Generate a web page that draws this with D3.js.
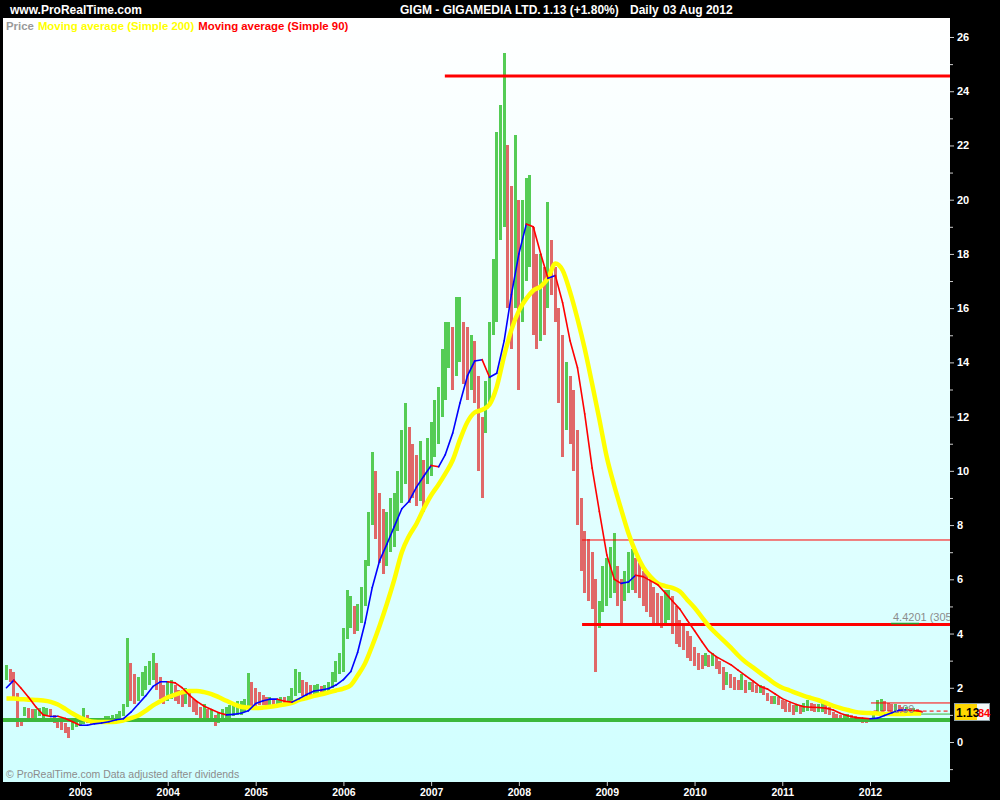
<!DOCTYPE html>
<html><head><meta charset="utf-8">
<script src="https://cdn.jsdelivr.net/npm/d3@7"></script>
<style>html,body{margin:0;padding:0;background:#000;}svg{display:block;}</style>
</head><body><svg id="c" width="1000" height="800"></svg>
<script>
// ---------- DATA ----------
const firstMonth = "2002-03-01";           // half-monthly bars start here, monthly MA points too
// half-monthly price ranges (low / high)
const barLow = [
  // 2002 (Mar-Dec)
  2.3,2.2,1.6,0.55,0.6,0.95,0.9,0.85,0.85,0.95,0.9,1.0,0.95,0.7,0.5,0.45,0.35,0.15,0.45,0.55,
  // 2003
  0.6,0.65,0.7,0.65,0.65,0.7,0.7,0.7,0.75,0.75,0.8,0.85,0.95,1.3,1.5,1.4,1.5,1.7,1.9,2.1,2.3,1.9,1.6,1.4,
  // 2004
  1.5,1.6,1.5,1.4,1.3,1.4,1.3,1.1,1.0,0.9,0.9,0.8,0.8,0.6,0.7,0.8,0.85,0.9,0.95,1.0,1.0,1.1,1.3,1.3,
  // 2005
  1.3,1.35,1.35,1.3,1.35,1.35,1.35,1.4,1.35,1.35,1.45,1.7,1.8,1.7,1.7,1.75,1.75,1.8,1.75,1.8,1.8,2.0,2.2,2.5,
  // 2006
  2.6,3.8,4.2,4.0,4.1,4.4,5.0,6.5,8.0,7.5,6.6,6.2,6.5,7.0,7.2,7.8,8.8,9.5,8.8,9.0,8.7,8.9,8.5,9.5,
  // 2007
  9.8,10.5,11.0,12.0,12.6,13.8,13.0,13.5,14.0,13.2,12.6,13.0,12.5,10.0,9.0,11.4,12.5,15.0,15.5,18.5,19.0,16.0,14.5,16.0,
  // 2008
  13.0,15.5,17.0,17.5,15.0,14.5,14.8,15.0,16.0,16.5,15.5,12.5,10.5,11.5,11.0,10.0,8.0,6.3,5.5,5.2,4.9,2.6,4.2,4.8,
  // 2009
  5.0,5.3,5.5,5.0,4.3,5.2,5.5,5.6,5.5,5.3,5.0,4.8,4.6,4.4,4.3,4.2,4.4,4.5,4.0,3.6,3.5,3.4,3.1,3.0,
  // 2010
  2.8,2.65,2.7,2.8,2.75,2.8,2.7,2.5,1.9,2.1,2.0,1.9,1.9,1.9,1.8,1.9,1.85,1.8,1.8,1.75,1.5,1.4,1.4,1.35,
  // 2011
  1.2,1.1,1.1,1.0,1.1,1.05,1.1,1.15,1.15,1.1,1.1,1.1,1.05,1.0,0.85,0.8,0.8,0.85,0.85,0.8,0.75,0.75,0.7,0.7,
  // 2012 (Jan-Aug 3)
  0.72,0.85,1.05,1.15,1.15,1.15,1.1,1.15,1.05,1.05,1.05,1.05,1.05,1.05,1.08
];
const barHigh = [
  2.85,2.7,2.6,1.8,0.8,1.3,1.25,1.2,1.2,1.25,1.3,1.25,1.2,1.0,0.8,0.75,0.7,0.55,0.75,0.9,
  0.95,1.25,1.0,0.9,0.85,0.9,0.9,0.95,0.95,1.0,1.05,1.15,1.4,3.85,2.9,2.5,2.4,2.6,2.8,3.0,3.3,2.9,2.4,2.1,
  2.2,2.3,2.1,1.9,1.9,2.0,1.8,1.6,1.5,1.3,1.4,1.2,1.2,1.0,1.1,1.2,1.3,1.35,1.4,1.5,1.5,1.6,2.55,2.2,
  2.0,1.85,1.75,1.65,1.65,1.6,1.6,1.65,1.65,1.7,2.0,2.7,2.6,2.3,2.2,2.1,2.1,2.15,2.05,2.1,2.2,2.6,3.0,3.3,
  4.2,5.6,5.4,5.0,5.1,5.7,6.7,8.5,10.7,10.0,9.2,8.6,8.5,9.0,9.2,10.0,11.5,12.5,11.6,11.0,10.6,11.1,10.4,11.2,
  11.8,12.6,13.1,14.5,15.5,15.5,15.3,16.4,16.4,15.5,15.3,15.0,14.8,13.5,12.0,13.3,15.5,17.8,22.5,23.5,25.4,22.0,20.5,22.4,
  20.0,20.0,20.8,20.9,19.0,18.0,18.0,17.5,19.9,18.5,17.5,16.0,15.0,14.0,13.5,13.0,11.5,9.0,7.8,7.5,7.0,6.0,5.2,6.5,
  6.8,7.2,7.7,6.5,6.0,6.3,7.0,7.1,6.8,6.6,6.3,6.2,6.0,5.7,5.5,5.4,5.6,5.6,5.4,5.0,4.5,4.3,4.1,3.9,
  3.5,3.3,3.2,3.3,3.2,3.3,3.15,3.0,2.75,2.6,2.5,2.4,2.3,2.5,2.3,2.2,2.2,2.1,2.1,2.05,1.8,1.7,1.7,1.65,
  1.55,1.5,1.45,1.35,1.4,1.35,1.45,1.55,1.45,1.4,1.4,1.45,1.4,1.3,1.1,1.05,1.0,1.05,1.05,1.0,0.95,0.9,0.9,0.85,
  0.9,1.05,1.55,1.6,1.5,1.45,1.4,1.4,1.35,1.3,1.3,1.25,1.25,1.2,1.16
];
// monthly moving-average values (from Mar 2002)
const ma90 = [
  2.0,2.28,1.98,1.65,1.3,1.0,0.94,0.95,0.87,0.75,
  0.62,0.62,0.67,0.7,0.75,0.82,0.86,1.1,1.4,1.7,2.05,2.22,
  2.22,2.18,2.0,1.72,1.5,1.32,1.2,1.08,1.0,1.02,1.06,1.15,
  1.42,1.52,1.58,1.58,1.5,1.47,1.6,1.75,1.88,1.92,1.97,2.1,
  2.3,2.6,3.3,4.4,5.7,6.7,7.3,7.95,8.6,8.88,9.4,9.8,
  10.2,10.15,10.6,11.4,12.5,13.5,14.05,14.1,13.45,13.6,14.8,16.5,
  18.0,19.1,19.0,18.0,17.1,17.2,16.2,14.8,13.8,12.1,10.1,8.5,
  6.9,6.0,5.85,5.9,6.15,6.1,5.95,5.8,5.5,5.2,4.9,4.5,
  4.1,3.7,3.35,3.15,3.0,2.85,2.65,2.45,2.25,2.05,1.95,1.78,
  1.6,1.48,1.38,1.3,1.28,1.27,1.25,1.18,1.05,0.97,0.9,0.88,
  0.86,0.88,0.98,1.08,1.17,1.19,1.16,1.13
];
const ma200 = [
  1.6,1.6,1.58,1.56,1.55,1.53,1.48,1.38,1.22,1.05,
  0.9,0.8,0.75,0.74,0.74,0.75,0.8,0.88,0.98,1.15,1.35,1.5,
  1.65,1.75,1.83,1.88,1.88,1.84,1.77,1.65,1.52,1.4,1.3,1.27,
  1.25,1.27,1.3,1.34,1.38,1.44,1.55,1.62,1.7,1.76,1.83,1.9,
  1.97,2.1,2.45,2.9,3.55,4.3,5.1,6.0,7.0,7.6,8.05,8.6,
  9.1,9.5,9.9,10.4,11.15,11.8,12.15,12.25,12.45,13.1,14.25,15.2,
  15.9,16.35,16.65,16.8,17.1,17.65,17.4,16.6,15.6,14.5,13.2,11.9,
  10.5,9.45,8.6,7.7,7.0,6.45,6.1,5.85,5.75,5.68,5.55,5.25,
  4.95,4.6,4.28,4.0,3.75,3.48,3.2,2.95,2.75,2.55,2.35,2.15,
  2.0,1.9,1.8,1.7,1.62,1.54,1.44,1.33,1.25,1.18,1.11,1.08,
  1.07,1.05,1.03,1.03,1.03,1.04,1.05,1.05
];
const yTickValues = [0,2,4,6,8,10,12,14,16,18,20,22,24,26];
const yMinorValues = [-1,1,3,5,7,9,11,13,15,17,19,21,23,25];
const yearLabels = ["2003","2004","2005","2006","2007","2008","2009","2010","2011","2012"];
// horizontal drawn levels: value and start date
const levelValues = [24.56, 7.45, 4.33, 0.81, 1.44, 1.14, 1.03];
const levelStarts = ["2007-02-27","2008-09-20","2008-09-20","2002-01-01","2012-01-05","2012-01-16","2012-05-18"];
const headerLeft = "www.ProRealTime.com";
const headerParts = ["GIGM - GIGAMEDIA LTD.", "1.13 (+1.80%)", "Daily", "03 Aug 2012"];
const legendItems = ["Price", "Moving average (Simple 200)", "Moving average (Simple 90)"];
const lastPrice = "1.13";
const otherPrice = "84";

// ---------- DRAW ----------
const W = 1000, H = 800;
const plot = {l:3, t:18, r:950, b:782};
const svg = d3.select("#c");
const parse = d3.timeParse("%Y-%m-%d");
const t0 = parse(firstMonth);

const x = d3.scaleTime().domain([new Date(2003,0,1), new Date(2012,0,1)]).range([80, 870]);
const y = d3.scaleLinear().domain([0, 26]).range([742, 37]);

const defs = svg.append("defs");
const grad = defs.append("linearGradient").attr("id","bg").attr("x1",0).attr("y1",0).attr("x2",0).attr("y2",1);
grad.append("stop").attr("offset","0%").attr("stop-color","#ffffff");
grad.append("stop").attr("offset","100%").attr("stop-color","#d0ffff");
defs.append("clipPath").attr("id","clip").append("rect")
  .attr("x",plot.l).attr("y",plot.t).attr("width",plot.r-plot.l).attr("height",plot.b-plot.t);

svg.append("rect").attr("width",W).attr("height",H).attr("fill","#000");
svg.append("rect").attr("x",plot.l).attr("y",plot.t).attr("width",plot.r-plot.l).attr("height",plot.b-plot.t).attr("fill","url(#bg)");

const font = "'Liberation Sans', Arial, sans-serif";

// header
svg.append("text").attr("x",10).attr("y",14).attr("fill","#fff").attr("font-family",font)
  .attr("font-weight","bold").attr("font-size",12).text(headerLeft);
const hx = [400, 543, 630, 663];
headerParts.forEach((s,i)=>{
  svg.append("text").attr("x",hx[i]).attr("y",14).attr("fill","#fff").attr("font-family",font)
    .attr("font-weight","bold").attr("font-size",12).text(s);
});

const g = svg.append("g").attr("clip-path","url(#clip)");

// bars
const bars = barLow.map((lo,i)=>{
  const d = d3.timeDay.offset(d3.timeMonth.offset(t0, Math.floor(i/2)), (i%2)?15:0);
  return {date:d, lo, hi:barHigh[i]};
});
bars.forEach((b,i)=>{
  const mid = (b.lo+b.hi)/2;
  const prev = i>0 ? (bars[i-1].lo+bars[i-1].hi)/2 : mid;
  b.up = mid >= prev;
});
g.append("g").attr("shape-rendering","crispEdges").selectAll("rect").data(bars).join("rect")
  .attr("x",d=>x(d.date)-1.5).attr("width",3)
  .attr("y",d=>y(d.hi)).attr("height",d=>Math.max(1,y(d.lo)-y(d.hi)))
  .attr("fill",d=>d.up?"#55cc55":"#e06868");

// levels
const levelStyle = [
  {w:3, c:"#ff0000", dash:null},
  {w:1, c:"#ff0000", dash:null},
  {w:3, c:"#ff0000", dash:null},
  {w:4, c:"#3cb83c", dash:null},
  {w:1, c:"#ff0000", dash:null},
  {w:1, c:"#ff0000", dash:"4,3"},
  {w:1, c:"#3cb83c", dash:null}
];
levelValues.forEach((v,i)=>{
  const xs = Math.max(plot.l, x(parse(levelStarts[i])));
  const ln = g.append("line").attr("x1",xs).attr("x2",plot.r).attr("y1",y(v)).attr("y2",y(v))
    .attr("stroke",levelStyle[i].c).attr("stroke-width",levelStyle[i].w);
  if(levelStyle[i].dash) ln.attr("stroke-dasharray",levelStyle[i].dash);
});

// MA 200 (yellow)
const maDates = ma200.map((_,i)=>d3.timeMonth.offset(t0,i));
const line = d3.line().x((d,i)=>x(maDates[i])).y(d=>y(d)).curve(d3.curveMonotoneX);
g.append("path").attr("d",line(ma200)).attr("fill","none").attr("stroke","#ffff00").attr("stroke-width",4.5)
  .attr("stroke-linejoin","round");

// MA 90: blue while rising, red while falling
const segs = [];
for(let i=0;i<ma90.length-1;i++){
  segs.push({a:i, b:i+1, up: ma90[i+1] >= ma90[i]});
}
g.append("g").selectAll("line").data(segs).join("line")
  .attr("x1",d=>x(maDates[d.a])).attr("y1",d=>y(ma90[d.a]))
  .attr("x2",d=>x(maDates[d.b])).attr("y2",d=>y(ma90[d.b]))
  .attr("stroke",d=>d.up?"#0000ff":"#ff0000").attr("stroke-width",1.6).attr("stroke-linecap","round");

// level annotations
g.append("text").attr("x",893).attr("y",621).attr("fill","#8c8c8c").attr("font-family",font)
  .attr("font-size",11).text("4.4201 (305 j)");
g.append("line").attr("x1",891).attr("x2",919).attr("y1",623.5).attr("y2",623.5).attr("stroke","#2a9a2a").attr("stroke-width",1.5);
g.append("text").attr("x",893).attr("y",713).attr("fill","#8c8c8c").attr("font-family",font)
  .attr("font-size",11).text("1.09");

// legend
let lx = 6;
const legendColors = ["#999999","#ffff00","#ff0000"];
legendItems.forEach((s,i)=>{
  const t = svg.append("text").attr("x",lx).attr("y",30).attr("fill",legendColors[i]).attr("font-family",font)
    .attr("font-weight","bold").attr("font-size",11.4).text(s);
  lx += t.node().getComputedTextLength() + 4;
});

// copyright
svg.append("text").attr("x",6).attr("y",778).attr("fill","#8c8c8c").attr("font-family",font)
  .attr("font-size",10.5).text("\u00A9 ProRealTime.com  Data adjusted after dividends");

// y axis
const ya = svg.append("g").attr("transform",`translate(${plot.r},0)`)
  .call(d3.axisRight(y).tickValues(yTickValues).tickSize(4).tickPadding(3).tickFormat(d3.format("d")));
ya.select(".domain").remove();
ya.selectAll("line").attr("stroke","#cccccc");
ya.selectAll("text").attr("fill","#fff").attr("font-family",font).attr("font-weight","bold").attr("font-size",11);
const ym = svg.append("g").attr("transform",`translate(${plot.r},0)`)
  .call(d3.axisRight(y).tickValues(yMinorValues).tickSize(3).tickFormat(""));
ym.select(".domain").remove();
ym.selectAll("line").attr("stroke","#cccccc");

// x axis
const xa = svg.append("g").attr("transform",`translate(0,${plot.b})`)
  .call(d3.axisBottom(x).tickValues(yearLabels.map(s=>new Date(+s,0,1))).tickSize(4).tickPadding(3)
    .tickFormat(d3.timeFormat("%Y")));
xa.select(".domain").remove();
xa.selectAll("line").attr("stroke","#cccccc");
xa.selectAll("text").attr("fill","#fff").attr("font-family",font).attr("font-weight","bold").attr("font-size",10.5);

// price box
svg.append("rect").attr("x",954.5).attr("y",703.5).attr("width",35).attr("height",17)
  .attr("fill","#f4f8f8").attr("stroke","#8fa0a8");
svg.append("rect").attr("x",955).attr("y",704).attr("width",22).attr("height",16).attr("fill","#ffd700");
svg.append("text").attr("x",956).attr("y",717).attr("fill","#000")
  .attr("font-family",font).attr("font-weight","bold").attr("font-size",12).text(lastPrice);
svg.append("text").attr("x",978).attr("y",717).attr("fill","#ff0000")
  .attr("font-family",font).attr("font-weight","bold").attr("font-size",11).text(otherPrice);
</script></body></html>
